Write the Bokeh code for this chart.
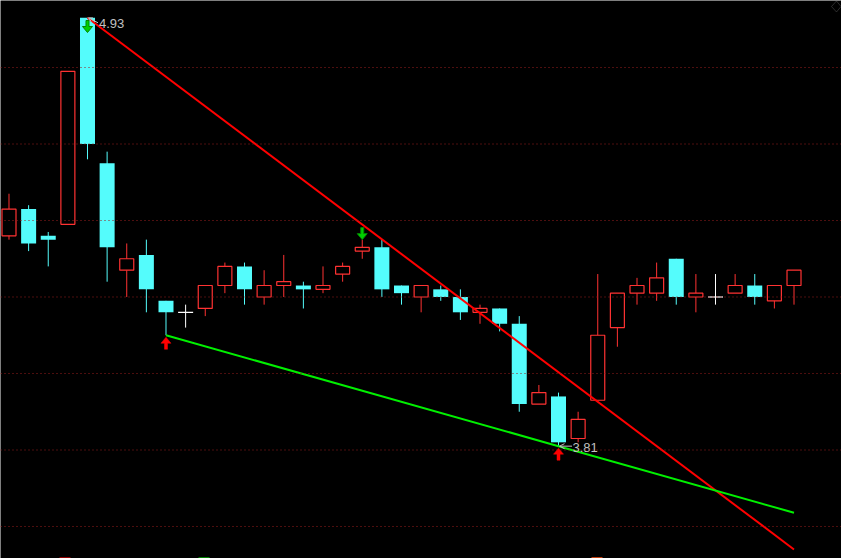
import re
from bokeh.plotting import figure
from bokeh.models import (Range1d, ColumnDataSource, Span, Arrow, OpenHead,
                          BoxAnnotation, PolyAnnotation)
from bokeh.embed import file_html
from bokeh.resources import INLINE
from bokeh.core.properties import value

# ---- data (daily OHLC) ----
opens  = [4.36, 4.43, 4.36, 4.39, 4.93, 4.55, 4.27, 4.31, 4.19, 4.16,
          4.17, 4.23, 4.28, 4.20, 4.23, 4.23, 4.22, 4.26, 4.32, 4.33,
          4.23, 4.20, 4.22, 4.20, 4.16, 4.17, 4.13, 3.92, 3.94, 3.83,
          3.93, 4.12, 4.21, 4.21, 4.30, 4.20, 4.20, 4.21, 4.23, 4.19, 4.23]
closes = [4.43, 4.34, 4.35, 4.79, 4.60, 4.33, 4.30, 4.22, 4.16, 4.16,
          4.23, 4.28, 4.22, 4.23, 4.24, 4.22, 4.23, 4.28, 4.33, 4.22,
          4.21, 4.23, 4.20, 4.16, 4.17, 4.13, 3.92, 3.95, 3.82, 3.88,
          4.10, 4.21, 4.23, 4.25, 4.20, 4.21, 4.20, 4.23, 4.20, 4.23, 4.27]
highs  = [4.47, 4.44, 4.37, 4.79, 4.93, 4.58, 4.34, 4.35, 4.19, 4.18,
          4.23, 4.29, 4.29, 4.27, 4.31, 4.24, 4.28, 4.29, 4.35, 4.35,
          4.23, 4.23, 4.23, 4.22, 4.18, 4.17, 4.15, 3.97, 3.95, 3.90,
          4.26, 4.21, 4.25, 4.29, 4.30, 4.26, 4.26, 4.26, 4.26, 4.23, 4.27]
lows   = [4.35, 4.32, 4.28, 4.39, 4.56, 4.24, 4.20, 4.16, 4.10, 4.12,
          4.15, 4.21, 4.18, 4.18, 4.20, 4.17, 4.21, 4.24, 4.30, 4.20,
          4.18, 4.16, 4.19, 4.14, 4.13, 4.11, 3.90, 3.92, 3.81, 3.82,
          3.93, 4.07, 4.18, 4.19, 4.18, 4.16, 4.18, 4.21, 4.18, 4.17, 4.18]

grid_levels = [3.6, 3.8, 4.0, 4.2, 4.4, 4.6, 4.8]

# trend lines (bar index, price)
resist_x = [4, 40]
resist_y = [4.93, 3.54]
support_x = [8, 28, 40]
support_y = [4.10, 3.81, 3.636]

sell_signals = [4, 18]
buy_signals = [8, 28]

high_label = (4, 4.93, "4.93")
low_label = (28, 3.81, "3.81")

# ---- styling ----
W, H = 841, 558
X0, X1 = -0.433, 42.42
Y0, Y1 = 3.5163, 4.9752
PXX = W / (X1 - X0)   # px per bar
PXY = H / (Y1 - Y0)   # px per price unit
UP, DOWN, FLAT = "#FF3232", "#54FCFC", "#FFFFFF"

p = figure(width=W, height=H, output_backend="svg", toolbar_location=None,
           x_range=Range1d(X0, X1), y_range=Range1d(Y0, Y1),
           x_axis_location=None, y_axis_location=None,
           min_border=0, background_fill_color="black",
           border_fill_color="black", outline_line_color=None)
p.grid.visible = False

for lev in grid_levels:
    p.add_layout(Span(location=lev, dimension="width", line_color="#9a1e1e",
                      line_width=1, line_dash="1 3"))

n = len(opens)
idx = list(range(n))
up = [i for i in idx if closes[i] > opens[i]]
dn = [i for i in idx if closes[i] < opens[i]]
fl = [i for i in idx if closes[i] == opens[i]]

# down candles: full wick + filled body
src_dn = ColumnDataSource(dict(
    x=dn, h=[highs[i] for i in dn], l=[lows[i] for i in dn],
    o=[opens[i] for i in dn], c=[closes[i] for i in dn]))
p.segment(x0="x", y0="l", x1="x", y1="h", source=src_dn, line_color=DOWN, line_width=1)
p.vbar(x="x", top="o", bottom="c", width=15 / PXX, source=src_dn,
       fill_color=DOWN, line_color=None)

# up candles: hollow body, wicks outside the body
src_up = ColumnDataSource(dict(
    x=up, h=[highs[i] for i in up], l=[lows[i] for i in up],
    o=[opens[i] for i in up], c=[closes[i] for i in up]))
p.segment(x0="x", y0="c", x1="x", y1="h", source=src_up, line_color=UP, line_width=1)
p.segment(x0="x", y0="l", x1="x", y1="o", source=src_up, line_color=UP, line_width=1)
p.vbar(x="x", top="c", bottom="o", width=14 / PXX, source=src_up,
       fill_color=None, line_color=UP, line_width=1.2)

# doji
src_fl = ColumnDataSource(dict(
    x=fl, h=[highs[i] for i in fl], l=[lows[i] for i in fl],
    c=[closes[i] for i in fl],
    xl=[i - 7.5 / PXX for i in fl], xr=[i + 7.5 / PXX for i in fl]))
p.segment(x0="x", y0="l", x1="x", y1="h", source=src_fl, line_color=FLAT, line_width=1)
p.segment(x0="xl", y0="c", x1="xr", y1="c", source=src_fl, line_color=FLAT, line_width=1.2)

# trend lines
p.line(resist_x, resist_y, line_color="#FF0000", line_width=2)
p.line(support_x, support_y, line_color="#00F000", line_width=2)

# signal arrows
def arrow_poly(i, tip, down):
    pts = [(0, 0), (5, 6), (1.5, 6), (1.5, 12), (-1.5, 12), (-1.5, 6), (-5, 6)]
    s = 1 if down else -1
    xs = [i + dx / PXX for dx, dy in pts]
    ys = [tip + s * dy / PXY for dx, dy in pts]
    return xs, ys

sx, sy = [], []
for i in sell_signals:
    tip = highs[i]
    top_limit = Y1 - 20 / PXY
    if tip + 12 / PXY > top_limit:
        tip = top_limit - 12 / PXY
    xs, ys = arrow_poly(i, tip, True)
    sx.append(xs); sy.append(ys)
p.patches(sx, sy, fill_color="#00D000", line_color="#008800", line_width=1)

bx, by = [], []
for i in buy_signals:
    xs, ys = arrow_poly(i, lows[i] - 2 / PXY, False)
    bx.append(xs); by.append(ys)
p.patches(bx, by, fill_color="#FF0000", line_color="#FF0000", line_width=0.5)

# high / low labels with leaders
GRAY = "#C0C0C0"
hi_i, hi_v, hi_t = high_label
lo_i, lo_v, lo_t = low_label
p.add_layout(Arrow(x_start=hi_i + 10.5 / PXX, y_start=hi_v - 5 / PXY, x_end=hi_i + 1 / PXX, y_end=hi_v,
                   line_color=GRAY, line_width=1,
                   end=OpenHead(size=4, line_color=GRAY, line_width=1)))
p.add_layout(Arrow(x_start=lo_i + 13.5 / PXX, y_start=lo_v, x_end=lo_i + 1 / PXX, y_end=lo_v,
                   line_color=GRAY, line_width=1,
                   end=OpenHead(size=5, line_color=GRAY, line_width=1)))
p.text(x=[hi_i], y=[hi_v], text=[hi_t], x_offset=11.5, y_offset=5.4,
       text_color=GRAY, text_font=value("Liberation Sans"), text_font_size="13px",
       text_baseline="alphabetic", text_align="left")
p.text(x=[lo_i], y=[lo_v], text=[lo_t], x_offset=14, y_offset=1.0,
       text_color=GRAY, text_font=value("Liberation Sans"), text_font_size="13px",
       text_baseline="alphabetic", text_align="left")

# corner diamond (window-control decoration)
p.add_layout(PolyAnnotation(xs=[831, 836, 840.5, 836], ys=[552, 557.5, 552, 546.5],
                            xs_units="screen", ys_units="screen",
                            fill_color=None, fill_alpha=0, line_color="#909090", line_width=1))

# cut-off legend swatches at the bottom edge
for l, r, col in [(59, 70, "#900000"), (198, 209, "#008000"), (591, 602, "#C04010")]:
    p.add_layout(BoxAnnotation(left=l, right=r, bottom=0, top=1.5,
                               left_units="screen", right_units="screen",
                               bottom_units="screen", top_units="screen",
                               fill_color=col, fill_alpha=1, line_color=None))

html = file_html(p, INLINE, title="chart")
html = re.sub(r"<body>", '<body style="margin:0;background:#000;overflow:hidden">', html, count=1)
open("out.html", "w").write(html)
